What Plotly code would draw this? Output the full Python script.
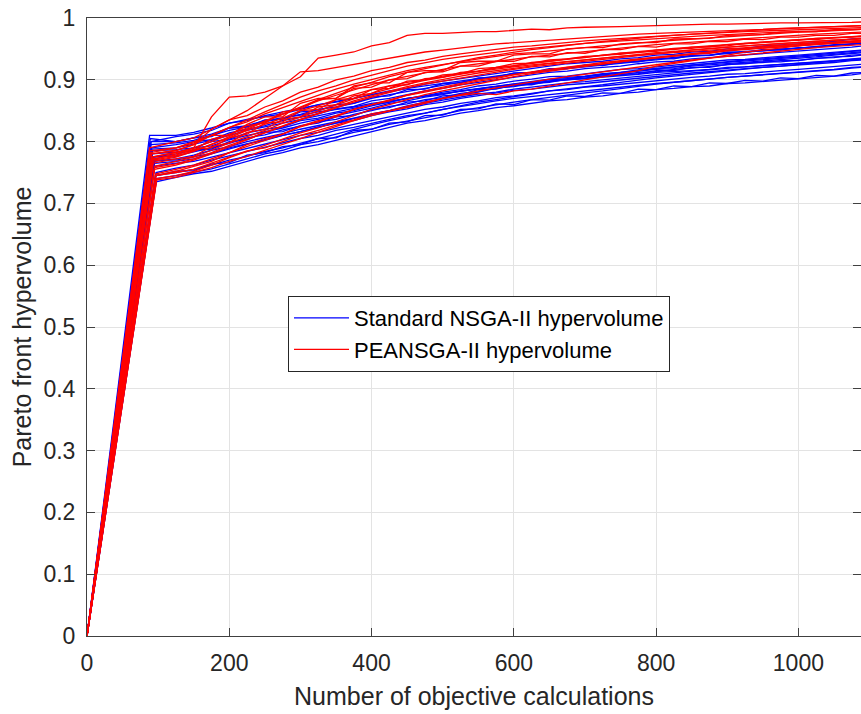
import plotly.graph_objects as go

# Common evaluation grid after the first generation
X_GRID = [125, 150, 175, 200, 225, 250, 275, 300, 325, 350, 375, 400, 425, 450, 475,
          500, 525, 550, 575, 600, 625, 650, 675, 700, 725, 750, 775, 800, 825, 850,
          875, 900, 925, 950, 975, 1000, 1025, 1050, 1075, 1100]

# Standard NSGA-II runs: first-generation point and hypervolume on X_GRID
NSGA_FIRST_X = [90, 97, 91, 95, 93, 89, 96, 92, 94, 90, 97, 98, 88, 93, 95, 91, 97, 90, 92, 95]
NSGA_FIRST_Y = [0.80, 0.735, 0.79, 0.76, 0.775, 0.805, 0.745, 0.785, 0.77, 0.795,
                0.75, 0.74, 0.81, 0.775, 0.765, 0.788, 0.745, 0.80, 0.78, 0.768]
NSGA_RUNS = [
    [.808, .812, .818, .83, .836, .84, .845, .852, .86, .864, .87, .876, .882, .886, .893, .898, .902, .906, .911, .915, .918, .922, .926, .928, .93, .934, .936, .94, .941, .945, .946, .95, .951, .955, .956, .958, .96, .962, .966, .968],
    [.742, .748, .752, .76, .768, .776, .782, .79, .795, .802, .81, .816, .824, .83, .834, .84, .846, .85, .855, .858, .862, .866, .868, .872, .874, .878, .88, .884, .886, .889, .89, .894, .895, .897, .9, .902, .904, .906, .908, .912],
    [.795, .8, .803, .814, .82, .826, .834, .84, .845, .853, .857, .866, .87, .876, .882, .886, .892, .896, .9, .904, .908, .912, .914, .918, .92, .922, .926, .929, .93, .934, .936, .938, .94, .943, .944, .946, .948, .951, .953, .956],
    [.765, .768, .775, .782, .79, .796, .803, .81, .815, .822, .828, .834, .84, .846, .852, .856, .862, .866, .871, .874, .878, .882, .884, .888, .89, .893, .896, .898, .901, .904, .906, .909, .91, .913, .915, .917, .919, .921, .924, .926],
    [.78, .786, .788, .8, .803, .815, .816, .826, .83, .84, .842, .852, .855, .864, .866, .874, .876, .884, .885, .892, .892, .898, .9, .903, .905, .909, .91, .915, .915, .92, .92, .925, .926, .929, .929, .932, .934, .937, .938, .942],
    [.8, .806, .812, .822, .826, .834, .838, .843, .848, .852, .856, .862, .866, .87, .874, .878, .882, .886, .89, .893, .896, .9, .902, .905, .908, .911, .913, .917, .918, .922, .924, .926, .928, .93, .932, .935, .937, .94, .942, .945],
    [.75, .755, .762, .77, .776, .784, .79, .798, .805, .812, .82, .827, .834, .84, .846, .852, .858, .864, .868, .872, .877, .882, .885, .889, .892, .896, .9, .903, .906, .909, .912, .915, .917, .92, .922, .925, .927, .93, .933, .935],
    [.787, .79, .8, .804, .814, .82, .824, .834, .838, .846, .85, .858, .864, .87, .874, .88, .884, .89, .893, .898, .901, .905, .906, .91, .913, .917, .918, .921, .924, .927, .929, .932, .933, .936, .938, .94, .942, .944, .946, .949],
    [.77, .776, .781, .79, .797, .803, .81, .816, .823, .83, .834, .842, .848, .853, .86, .864, .87, .874, .878, .883, .885, .889, .892, .894, .897, .9, .903, .906, .908, .911, .913, .916, .918, .92, .922, .923, .926, .928, .931, .933],
    [.798, .802, .81, .818, .824, .832, .838, .844, .852, .856, .862, .87, .876, .881, .886, .892, .896, .901, .905, .91, .912, .916, .919, .922, .925, .928, .93, .934, .936, .939, .94, .944, .946, .947, .95, .951, .954, .956, .958, .961],
    [.757, .762, .77, .777, .785, .792, .798, .805, .81, .818, .823, .83, .836, .842, .846, .852, .857, .862, .866, .87, .873, .877, .88, .882, .885, .888, .891, .894, .896, .899, .901, .904, .906, .908, .91, .911, .914, .916, .919, .921],
    [.745, .75, .756, .764, .772, .78, .786, .795, .8, .808, .815, .82, .828, .833, .838, .844, .85, .855, .86, .864, .868, .872, .876, .879, .882, .886, .89, .893, .896, .898, .901, .904, .906, .908, .91, .912, .915, .917, .92, .922],
    [.81, .815, .822, .83, .834, .842, .848, .854, .86, .865, .87, .876, .88, .886, .89, .894, .898, .902, .906, .91, .912, .916, .918, .921, .924, .927, .93, .933, .935, .938, .94, .943, .945, .947, .949, .951, .953, .955, .958, .96],
    [.777, .783, .79, .797, .806, .811, .819, .825, .832, .836, .844, .85, .857, .861, .868, .871, .878, .881, .887, .889, .894, .896, .901, .902, .906, .908, .912, .913, .917, .919, .922, .924, .927, .928, .931, .931, .935, .936, .94, .941],
    [.768, .772, .78, .788, .796, .802, .81, .816, .824, .83, .837, .845, .85, .858, .864, .87, .875, .88, .886, .89, .894, .898, .902, .905, .909, .912, .915, .918, .921, .924, .926, .929, .932, .934, .936, .938, .941, .943, .946, .948],
    [.79, .796, .802, .81, .818, .824, .83, .836, .842, .848, .853, .86, .864, .87, .874, .878, .882, .886, .889, .892, .895, .898, .9, .902, .904, .907, .909, .912, .913, .915, .917, .92, .921, .923, .925, .926, .928, .93, .933, .934],
    [.752, .753, .764, .766, .778, .782, .792, .795, .805, .806, .818, .82, .83, .832, .842, .843, .852, .853, .861, .86, .868, .867, .874, .873, .879, .878, .885, .884, .89, .889, .895, .894, .899, .898, .903, .902, .907, .906, .911, .912],
    [.8, .806, .808, .822, .824, .835, .836, .848, .85, .86, .862, .872, .874, .884, .885, .894, .895, .903, .904, .911, .912, .918, .918, .924, .923, .929, .929, .935, .934, .94, .939, .945, .944, .949, .948, .952, .952, .957, .957, .962],
    [.783, .79, .793, .803, .81, .816, .822, .83, .836, .842, .849, .854, .862, .866, .872, .876, .882, .886, .89, .894, .897, .901, .904, .906, .91, .912, .916, .918, .921, .924, .926, .928, .931, .933, .935, .936, .939, .941, .944, .946],
    [.772, .778, .786, .792, .8, .806, .813, .82, .826, .833, .838, .845, .85, .857, .862, .867, .872, .877, .88, .885, .888, .892, .895, .897, .9, .903, .906, .909, .911, .914, .916, .919, .921, .923, .925, .926, .929, .931, .934, .936],
]

# PEANSGA-II runs
PEA_FIRST_X = [91, 90, 96, 88, 97, 93, 92, 95, 88, 98, 92, 95, 89, 97, 89, 93, 98, 91, 92, 95]
PEA_FIRST_Y = [0.78, 0.77, 0.745, 0.785, 0.745, 0.765, 0.775, 0.755, 0.79, 0.74,
               0.772, 0.76, 0.78, 0.748, 0.782, 0.768, 0.738, 0.775, 0.77, 0.758]
PEA_RUNS = [
    [.785, .795, .82, .835, .85, .87, .89, .905, .935, .94, .945, .955, .96, .972, .975, .975, .977, .978, .978, .98, .982, .981, .984, .985, .985, .986, .987, .988, .988, .99, .99, .99, .991, .991, .992, .992, .992, .993, .993, .994],
    [.78, .79, .84, .872, .874, .88, .89, .913, .915, .92, .925, .93, .935, .94, .945, .948, .952, .955, .958, .96, .962, .965, .967, .968, .97, .972, .974, .975, .976, .978, .979, .98, .981, .982, .983, .984, .985, .986, .987, .988],
    [.75, .755, .765, .775, .785, .79, .8, .81, .818, .826, .835, .845, .85, .855, .862, .87, .875, .878, .876, .882, .885, .89, .895, .9, .905, .91, .915, .922, .926, .93, .935, .94, .945, .948, .952, .955, .958, .96, .962, .965],
    [.79, .8, .81, .823, .832, .845, .855, .865, .875, .885, .893, .9, .908, .915, .92, .925, .93, .934, .938, .942, .944, .947, .95, .952, .955, .957, .96, .962, .964, .966, .968, .97, .972, .974, .976, .977, .978, .98, .981, .982],
    [.752, .76, .768, .782, .792, .802, .812, .824, .832, .842, .852, .86, .868, .875, .882, .888, .894, .9, .904, .909, .913, .917, .92, .924, .928, .931, .934, .937, .94, .942, .945, .948, .95, .952, .954, .956, .958, .96, .961, .962],
    [.772, .776, .792, .798, .815, .82, .836, .84, .856, .86, .874, .878, .89, .892, .902, .904, .912, .914, .92, .922, .928, .93, .934, .936, .94, .941, .945, .946, .95, .951, .954, .955, .959, .96, .963, .964, .967, .968, .97, .972],
    [.782, .79, .8, .812, .822, .834, .845, .855, .866, .875, .884, .892, .9, .906, .912, .917, .922, .926, .93, .934, .937, .94, .943, .946, .949, .951, .954, .957, .959, .961, .963, .965, .967, .969, .971, .972, .974, .975, .977, .978],
    [.762, .77, .78, .792, .803, .814, .825, .835, .845, .855, .864, .872, .88, .887, .893, .898, .903, .908, .913, .917, .921, .924, .928, .931, .934, .937, .94, .943, .945, .948, .95, .953, .955, .957, .959, .961, .963, .965, .966, .968],
    [.8, .806, .82, .835, .842, .856, .866, .88, .888, .9, .906, .915, .92, .928, .932, .938, .942, .946, .95, .953, .955, .958, .96, .963, .965, .967, .969, .971, .972, .974, .975, .977, .978, .979, .98, .981, .982, .983, .984, .985],
    [.745, .752, .762, .774, .784, .794, .803, .814, .822, .832, .842, .852, .86, .868, .876, .882, .888, .894, .9, .905, .91, .914, .918, .922, .926, .93, .933, .936, .939, .942, .945, .948, .95, .953, .955, .957, .959, .961, .962, .964],
    [.778, .788, .79, .806, .812, .83, .832, .85, .852, .868, .87, .884, .886, .898, .9, .908, .91, .918, .92, .926, .927, .932, .934, .938, .939, .943, .944, .948, .949, .953, .953, .957, .958, .961, .962, .965, .965, .968, .969, .971],
    [.768, .775, .786, .798, .808, .818, .83, .84, .85, .86, .869, .878, .886, .893, .899, .904, .91, .915, .919, .923, .927, .93, .933, .937, .94, .943, .946, .948, .951, .953, .955, .958, .96, .962, .964, .965, .967, .968, .97, .971],
    [.786, .795, .81, .81, .828, .84, .84, .862, .87, .87, .89, .895, .895, .912, .915, .915, .928, .93, .93, .94, .942, .942, .95, .952, .952, .958, .96, .96, .966, .967, .967, .972, .973, .973, .977, .978, .978, .981, .982, .982],
    [.755, .762, .772, .782, .795, .805, .812, .825, .834, .84, .852, .86, .866, .875, .88, .886, .893, .898, .902, .908, .912, .915, .92, .923, .926, .93, .933, .935, .939, .941, .943, .947, .949, .951, .954, .955, .957, .959, .96, .962],
    [.79, .798, .81, .822, .835, .848, .86, .872, .882, .89, .9, .908, .915, .922, .928, .933, .937, .941, .945, .948, .951, .954, .957, .959, .961, .963, .965, .967, .969, .97, .972, .973, .975, .976, .977, .978, .979, .98, .981, .982],
    [.775, .784, .796, .806, .818, .828, .838, .85, .858, .868, .876, .884, .89, .896, .9, .906, .91, .914, .918, .921, .924, .927, .93, .933, .935, .938, .94, .942, .945, .947, .949, .951, .953, .955, .956, .958, .96, .961, .963, .964],
    [.742, .75, .758, .768, .776, .786, .795, .805, .815, .825, .834, .842, .85, .857, .864, .87, .877, .882, .887, .892, .897, .901, .905, .909, .913, .917, .921, .925, .928, .932, .935, .938, .941, .944, .947, .95, .952, .954, .956, .958],
    [.783, .786, .804, .81, .826, .83, .848, .852, .868, .87, .886, .888, .9, .902, .912, .913, .922, .922, .93, .93, .938, .937, .944, .943, .949, .949, .954, .953, .958, .958, .962, .962, .966, .965, .969, .969, .972, .972, .975, .975],
    [.776, .785, .795, .808, .82, .832, .845, .857, .868, .878, .888, .896, .905, .912, .918, .925, .931, .936, .94, .945, .949, .952, .956, .959, .962, .965, .968, .97, .972, .974, .976, .978, .98, .981, .983, .984, .985, .986, .987, .988],
    [.764, .772, .782, .794, .804, .815, .826, .836, .846, .856, .866, .874, .882, .889, .895, .901, .906, .911, .915, .919, .923, .926, .929, .932, .936, .939, .941, .944, .946, .949, .951, .953, .955, .957, .959, .961, .962, .964, .965, .967],
]

X_TICKS = [0, 200, 400, 600, 800, 1000]
Y_TICKS = [0, 0.1, 0.2, 0.3, 0.4, 0.5, 0.6, 0.7, 0.8, 0.9, 1]
SERIES_NAMES = ["Standard NSGA-II hypervolume", "PEANSGA-II hypervolume"]
SERIES_COLORS = ["#0000FF", "#FF0000"]

for r in NSGA_RUNS + PEA_RUNS:
    assert len(r) == len(X_GRID), len(r)

fig = go.Figure()
groups = [(NSGA_FIRST_X, NSGA_FIRST_Y, NSGA_RUNS), (PEA_FIRST_X, PEA_FIRST_Y, PEA_RUNS)]
for gi, (fx, fy, runs) in enumerate(groups):
    for i, run in enumerate(runs):
        fig.add_trace(go.Scatter(
            x=[0, fx[i]] + X_GRID,
            y=[0, fy[i]] + run,
            mode="lines",
            line=dict(color=SERIES_COLORS[gi], width=1.3),
            name=SERIES_NAMES[gi],
            showlegend=(i == 0),
        ))

FONT = "Liberation Sans, Arial, sans-serif"
AX = "#262626"
fig.update_layout(
    width=861, height=714,
    margin=dict(l=87, r=0, t=18, b=78),
    paper_bgcolor="white", plot_bgcolor="white",
    font=dict(family=FONT, color=AX),
    showlegend=True,
    legend=dict(x=0.2597, y=0.5502, xanchor="left", yanchor="top",
                bgcolor="white", bordercolor=AX, borderwidth=1,
                font=dict(size=22, color="black"), itemwidth=55),
)
fig.update_xaxes(
    range=[0, 1088], tickvals=X_TICKS, ticks="inside", ticklen=8, tickcolor="#404040",
    showline=True, linecolor="#404040", linewidth=1, mirror="ticks",
    showgrid=True, gridcolor="#e3e3e3", gridwidth=1, zeroline=False,
    tickfont=dict(size=23, color=AX), ticklabelstandoff=6,
    title=dict(text="Number of objective calculations", font=dict(size=25, color=AX), standoff=12),
)
fig.update_yaxes(
    range=[0, 1], tickvals=Y_TICKS, ticks="inside", ticklen=8, tickcolor="#404040",
    showline=True, linecolor="#404040", linewidth=1, mirror="ticks",
    showgrid=True, gridcolor="#e3e3e3", gridwidth=1, zeroline=False,
    tickfont=dict(size=23, color=AX), ticklabelstandoff=6,
    title=dict(text="Pareto front hypervolume", font=dict(size=25, color=AX), standoff=4),
)

fig.write_html("out.html")
